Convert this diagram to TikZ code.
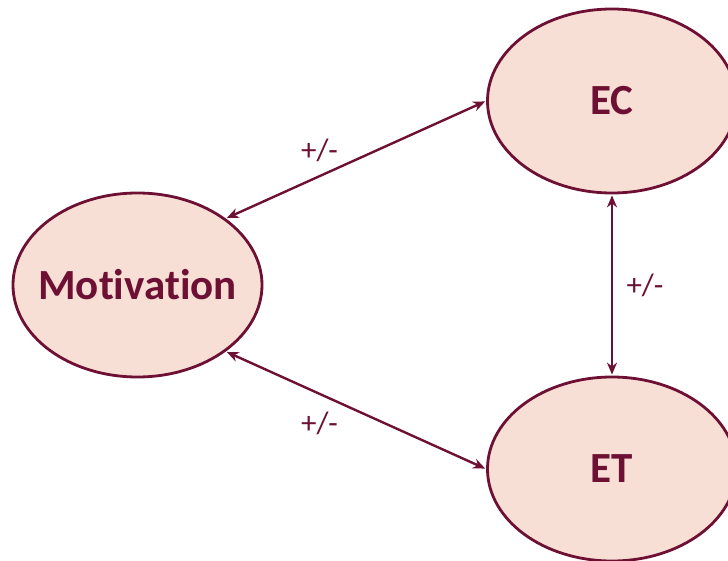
\documentclass[tikz,border=0pt]{standalone}
\usepackage{fontspec}
\setmainfont{Carlito}[Ligatures=NoCommon]
\usetikzlibrary{shapes.geometric, arrows.meta, positioning}

\definecolor{maroon}{RGB}{110,16,52}
\definecolor{blush}{RGB}{248,223,214}

\begin{document}
\begin{tikzpicture}[
    x=1pt, y=-1pt,
    factor/.style={ellipse, draw=maroon, line width=2.8pt, fill=blush,
                   minimum width=249pt, minimum height=184pt,
                   inner xsep=-20pt, inner ysep=0pt,
                   text=maroon, font=\fontsize{43}{47}\selectfont\bfseries},
    lbl/.style={text=maroon, font=\fontsize{31}{35}\selectfont},
    arr/.style={{Stealth[length=12pt,width=10pt]}-{Stealth[length=12pt,width=10pt]},
                draw=maroon, line width=2.4pt, shorten <=1pt, shorten >=1pt}
  ]
  \useasboundingbox (0,0) rectangle (728,561);
  \clip (0,0) rectangle (728,561);

  \node[factor] (mot) at (137.5,285) {Motivation};
  \node[factor] (ec)  at (612,101)   {EC};
  \node[factor] (et)  at (612,469)   {ET};

  % Links between the three factors
  \draw[arr] (mot.37)  -- node[lbl, pos=0.36, yshift=26pt] (l1) {+/-} (ec.west);
  \draw[arr] (mot.-37) -- node[lbl, pos=0.36, yshift=-30pt] (l2) {+/-} (et.west);
  \draw[arr] (ec.south) -- node[lbl, xshift=33pt] (l3) {+/-} (et.north);

\end{tikzpicture}
\end{document}
